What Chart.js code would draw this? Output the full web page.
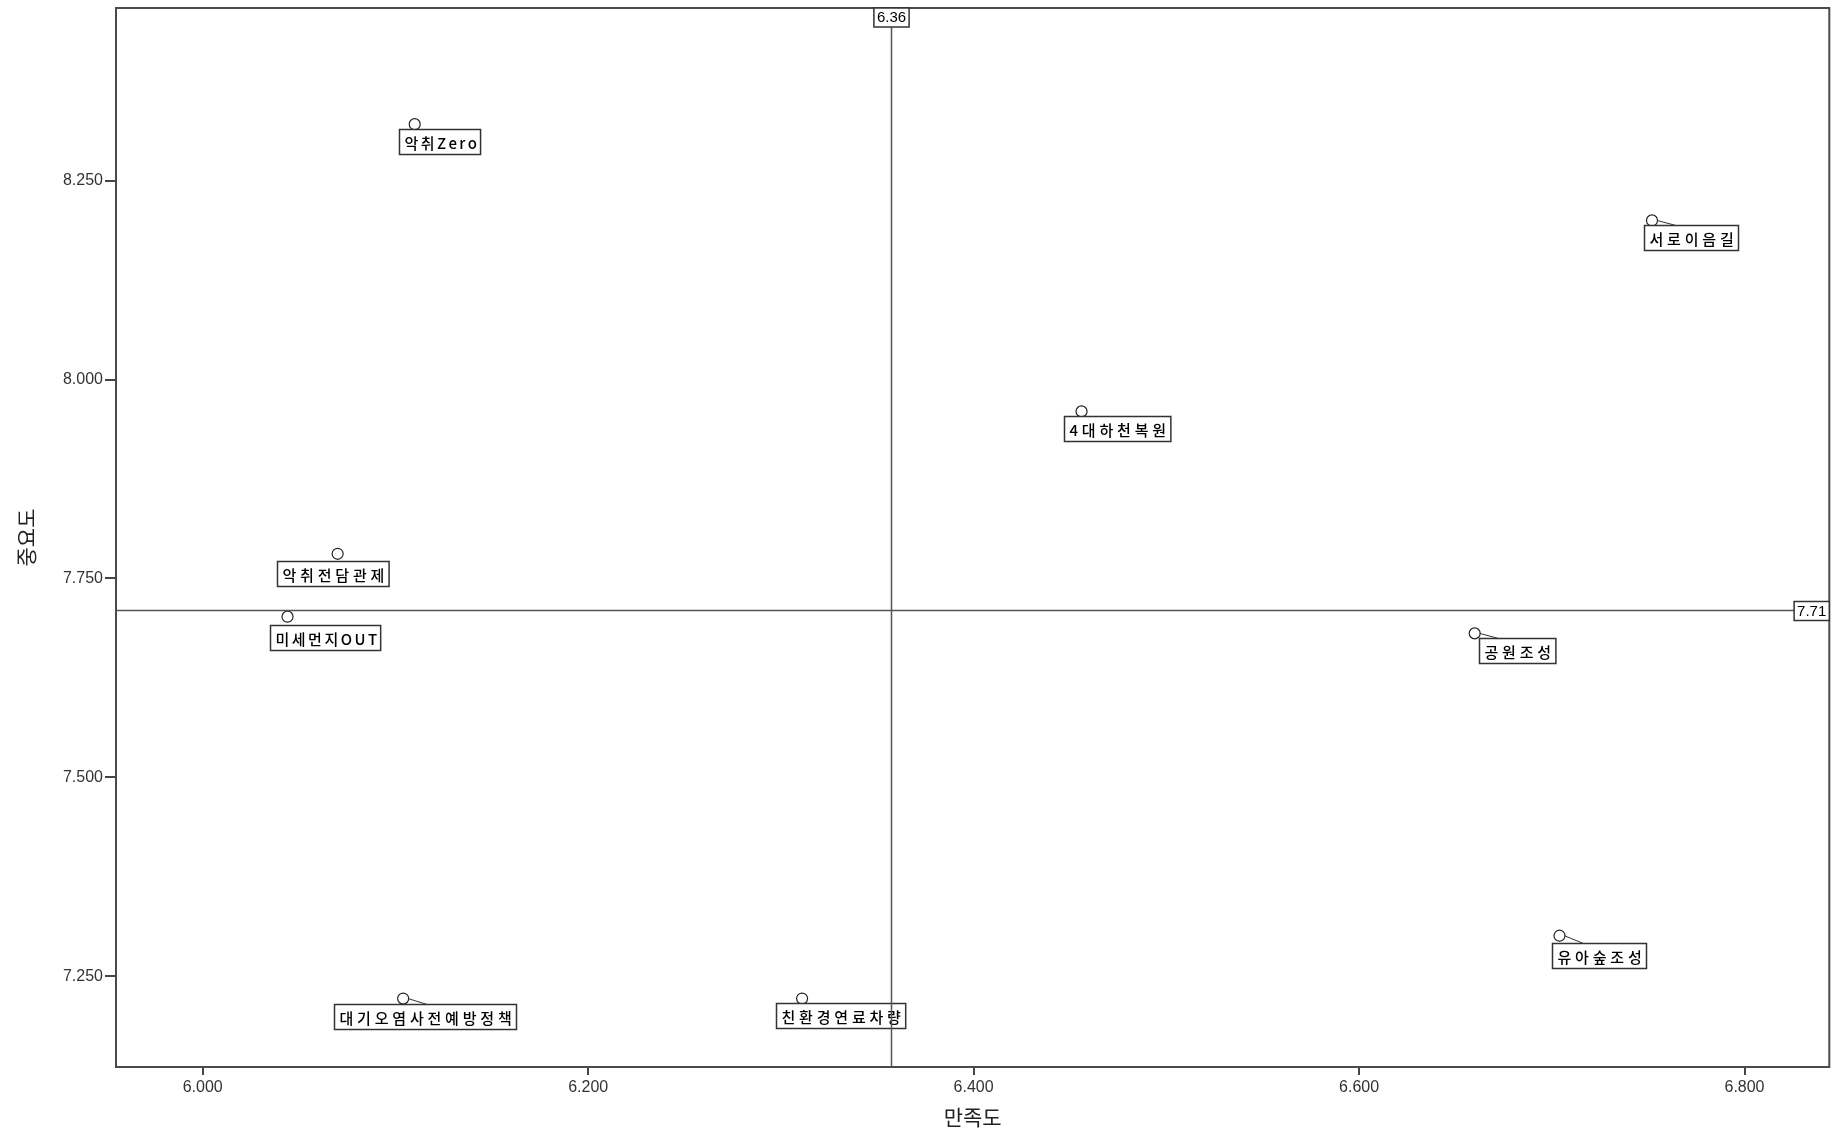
<!DOCTYPE html>
<html>
<head>
<meta charset="utf-8">
<script src="https://cdn.jsdelivr.net/npm/chart.js@4/dist/chart.umd.min.js"></script>
<style>
html,body{margin:0;padding:0;background:#fff;}
#wrap{width:1836px;height:1131px;position:relative;}
</style>
</head>
<body>
<div id="wrap"><canvas id="c" width="1836" height="1131"></canvas></div>
<script>
// ---- data ----
const categories = ['악취Zero','서로이음길','4대하천복원','악취전담관제','미세먼지OUT','공원조성','유아숲조성','대기오염사전예방정책','친환경연료차량'];
const satisfaction = [6.110, 6.752, 6.456, 6.070, 6.044, 6.660, 6.704, 6.104, 6.311];
const importance   = [8.321, 8.200, 7.960, 7.781, 7.702, 7.681, 7.301, 7.222, 7.222];
const xTickValues = [6.0, 6.2, 6.4, 6.6, 6.8];
const yTickValues = [7.25, 7.5, 7.75, 8.0, 8.25];
const meanSatisfaction = 6.357;
const meanImportance = 7.710;
const xTitle = '만족도';
const yTitle = '중요도';

// ---- label layout (pixel offsets of label boxes relative to points) ----
const labelDx = [-16, -8, -18, -61, -18, 4, -7, -69, -26];
const labelDy = [5, 5, 5, 7, 8, 5, 7, 5, 4];
const labelLeader = [false, true, false, false, false, true, true, true, false];

const points = categories.map((c, i) => ({x: satisfaction[i], y: importance[i]}));

const overlay = {
  id: 'overlay',
  afterDatasetsDraw(chart) {
    const ctx = chart.ctx;
    const xs = chart.scales.x, ys = chart.scales.y;
    const a = chart.chartArea;
    ctx.save();
    // point labels
    ctx.font = '500 15px "Noto Sans CJK KR", "Liberation Sans", sans-serif';
    ctx.textBaseline = 'middle';
    ctx.textAlign = 'left';
    categories.forEach((name, i) => {
      ctx.letterSpacing = /[A-Za-z]/.test(name) ? '2.5px' : '3.8px';
      const px = xs.getPixelForValue(satisfaction[i]);
      const py = ys.getPixelForValue(importance[i]);
      const w = ctx.measureText(name).width + 6;
      const h = 25;
      const bx = Math.round(px + labelDx[i]) + 0.5;
      const by = Math.round(py + labelDy[i]) + 0.5;
      if (labelLeader[i]) {
        ctx.strokeStyle = '#333';
        ctx.lineWidth = 1;
        ctx.beginPath();
        ctx.moveTo(px + 5, py);
        ctx.lineTo(px + 24, by);
        ctx.stroke();
      }
      ctx.fillStyle = '#fff';
      ctx.fillRect(bx, by, w, h);
      ctx.strokeStyle = '#333';
      ctx.lineWidth = 1.5;
      ctx.strokeRect(bx, by, w, h);
      ctx.fillStyle = '#000';
      ctx.fillText(name, bx + 5, by + h / 2 + 1);
    });
    ctx.letterSpacing = '0px';
    // reference lines
    const mx = Math.round(xs.getPixelForValue(meanSatisfaction)) + 0.5;
    const my = Math.round(ys.getPixelForValue(meanImportance)) + 0.5;
    ctx.strokeStyle = '#555';
    ctx.lineWidth = 1.5;
    ctx.beginPath();
    ctx.moveTo(mx, a.top); ctx.lineTo(mx, a.bottom);
    ctx.moveTo(a.left, my); ctx.lineTo(a.right, my);
    ctx.stroke();
    // frame
    ctx.strokeStyle = '#4a4a4a';
    ctx.lineWidth = 2;
    ctx.strokeRect(a.left, a.top, a.right - a.left, a.bottom - a.top);
    // reference value boxes
    ctx.font = '15px "Liberation Sans", Arial, sans-serif';
    ctx.textAlign = 'center';
    const t1 = meanSatisfaction.toFixed(2);
    const w1 = ctx.measureText(t1).width + 6;
    ctx.fillStyle = '#fff';
    ctx.fillRect(mx - w1 / 2, a.top, w1, 19);
    ctx.strokeStyle = '#333'; ctx.lineWidth = 1.5;
    ctx.strokeRect(mx - w1 / 2, a.top, w1, 19);
    ctx.fillStyle = '#000';
    ctx.fillText(t1, mx, a.top + 10);
    const t2 = meanImportance.toFixed(2);
    const w2 = ctx.measureText(t2).width + 6;
    ctx.fillStyle = '#fff';
    ctx.fillRect(a.right - w2, my - 9, w2, 19);
    ctx.strokeStyle = '#333';
    ctx.strokeRect(a.right - w2, my - 9, w2, 19);
    ctx.fillStyle = '#000';
    ctx.fillText(t2, a.right - w2 / 2, my + 1);
    ctx.restore();
  }
};

new Chart(document.getElementById('c'), {
  type: 'scatter',
  data: {
    datasets: [{
      data: points,
      pointRadius: 5.5,
      pointHoverRadius: 5.5,
      pointStyle: 'circle',
      pointBackgroundColor: '#fff',
      pointBorderColor: '#222',
      pointBorderWidth: 1.2
    }]
  },
  options: {
    responsive: false,
    animation: false,
    events: [],
    layout: { padding: { top: 8, right: 6, left: 0, bottom: 0 } },
    plugins: { legend: { display: false }, tooltip: { enabled: false } },
    scales: {
      x: {
        type: 'linear',
        min: 5.955, max: 6.844,
        afterBuildTicks: s => { s.ticks = xTickValues.map(v => ({value: v})); },
        afterFit: s => { s.height = 64; s.paddingLeft = 0; s.paddingRight = 0; },
        ticks: {
          callback: v => Number(v).toFixed(3),
          font: { family: '"Liberation Sans", Arial, sans-serif', size: 16 },
          color: '#333', padding: 3, maxRotation: 0
        },
        grid: { drawOnChartArea: false, drawTicks: true, tickLength: 8, color: '#444', lineWidth: 2 },
        border: { display: true, color: '#4a4a4a', width: 2 },
        title: {
          display: true, text: xTitle, color: '#222',
          font: { family: '"Noto Sans CJK KR", sans-serif', size: 21 },
          padding: { top: 0, bottom: 1 }
        }
      },
      y: {
        type: 'linear',
        min: 7.136, max: 8.467,
        afterBuildTicks: s => { s.ticks = yTickValues.map(v => ({value: v})); },
        afterFit: s => { s.width = 116; s.paddingTop = 0; s.paddingBottom = 0; },
        ticks: {
          callback: v => Number(v).toFixed(3),
          font: { family: '"Liberation Sans", Arial, sans-serif', size: 16 },
          color: '#333', padding: 2
        },
        grid: { drawOnChartArea: false, drawTicks: true, tickLength: 11, color: '#444', lineWidth: 2 },
        border: { display: true, color: '#4a4a4a', width: 2 },
        title: {
          display: true, text: yTitle, color: '#222',
          font: { family: '"Noto Sans CJK KR", sans-serif', size: 21 },
          padding: { top: 13, bottom: 0 }
        }
      }
    }
  },
  plugins: [overlay]
});
</script>
</body>
</html>
